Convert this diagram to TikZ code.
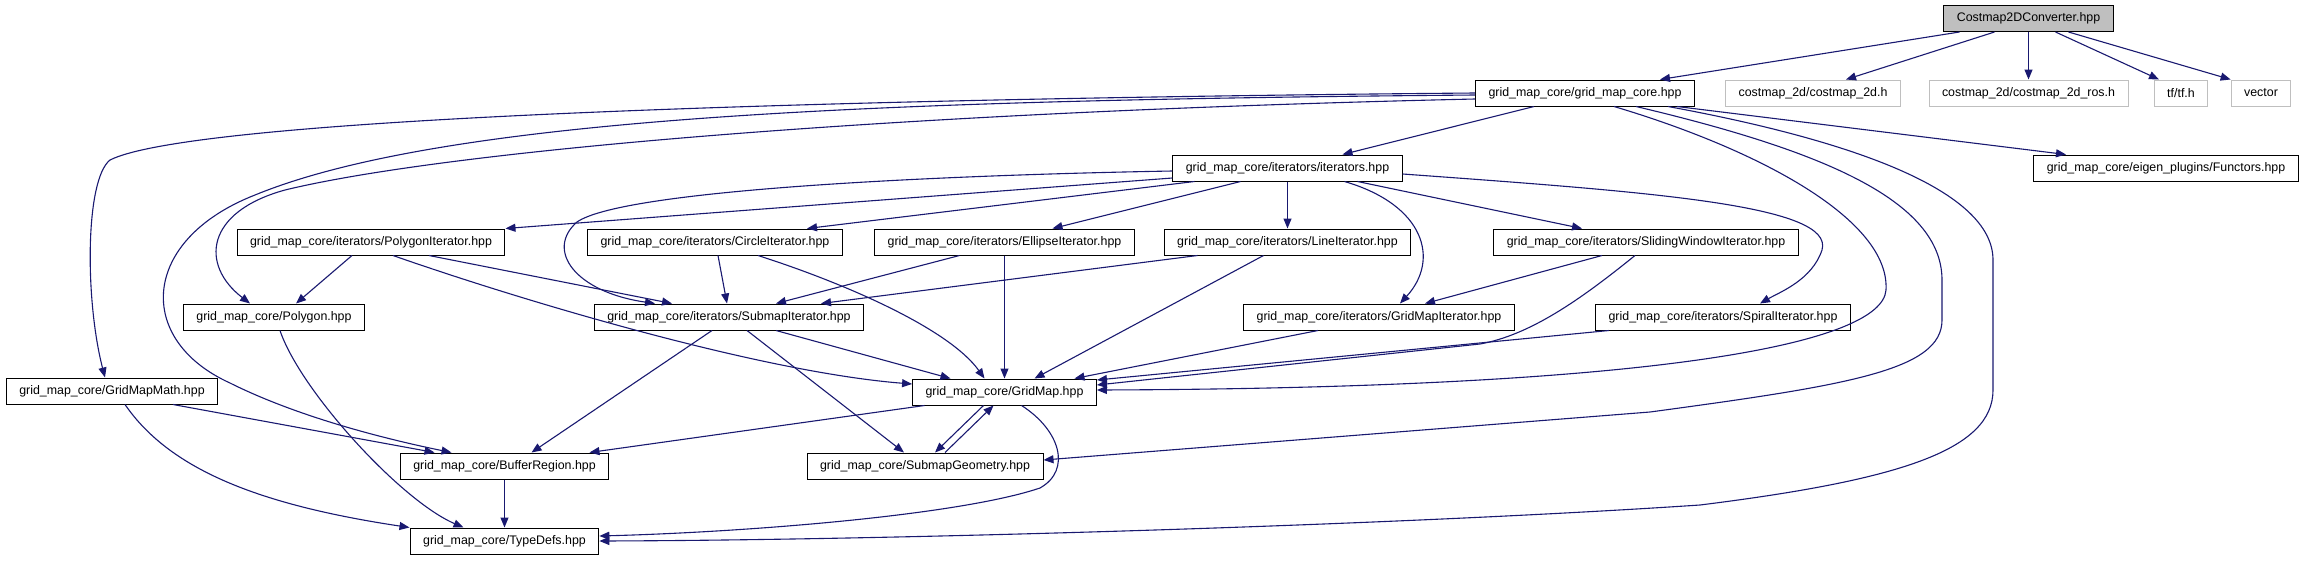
\documentclass[tikz,border=0pt]{standalone}
\usepackage{fontspec}
\setmainfont{Liberation Sans}
\usepackage{tikz}
\usepackage{xcolor}
\usetikzlibrary{arrows.meta,positioning}
\definecolor{Navy}{HTML}{191970}
\definecolor{Grey}{HTML}{BFBFBF}
\tikzset{
  hdr/.style={
    rectangle,draw=black,line width=1pt,fill=white,
    minimum height=26pt,inner xsep=13pt,inner ysep=2pt,
    font=\fontsize{12.4}{14}\selectfont,text=black
  },
  roothdr/.style={hdr,fill=Grey},
  syshdr/.style={hdr,draw=Grey},
  incl/.style={-{Triangle[length=10pt,width=8pt]},draw=Navy,line width=1.1pt}
}
\begin{document}
\begin{tikzpicture}[x=1pt,y=-1pt]
  \useasboundingbox (0,0) rectangle (2308,560);
  \node[roothdr] (conv) at (2028.5,18.5) {Costmap2DConverter.hpp};
  \node[hdr] (core) at (1585,93) {grid\_map\_core/grid\_map\_core.hpp};
  \node[syshdr] (cm2d) at (1813,93) {costmap\_2d/costmap\_2d.h};
  \node[syshdr] (cmros) at (2028.5,93) {costmap\_2d/costmap\_2d\_ros.h};
  \node[syshdr] (tf) at (2181,93) {tf/tf.h};
  \node[syshdr] (vec) at (2261,93) {vector};
  \node[hdr] (iters) at (1287.5,168) {grid\_map\_core/iterators/iterators.hpp};
  \node[hdr] (functors) at (2166,168) {grid\_map\_core/eigen\_plugins/Functors.hpp};
  \node[hdr] (polyit) at (371,242) {grid\_map\_core/iterators/PolygonIterator.hpp};
  \node[hdr] (circit) at (715,242) {grid\_map\_core/iterators/CircleIterator.hpp};
  \node[hdr] (ellit) at (1004.5,242) {grid\_map\_core/iterators/EllipseIterator.hpp};
  \node[hdr] (lineit) at (1287.5,242) {grid\_map\_core/iterators/LineIterator.hpp};
  \node[hdr] (slideit) at (1646,242) {grid\_map\_core/iterators/SlidingWindowIterator.hpp};
  \node[hdr] (polygon) at (274,317) {grid\_map\_core/Polygon.hpp};
  \node[hdr] (submapit) at (729,317) {grid\_map\_core/iterators/SubmapIterator.hpp};
  \node[hdr] (gmit) at (1379,317) {grid\_map\_core/iterators/GridMapIterator.hpp};
  \node[hdr] (spiralit) at (1723,317) {grid\_map\_core/iterators/SpiralIterator.hpp};
  \node[hdr] (gmmath) at (112,391) {grid\_map\_core/GridMapMath.hpp};
  \node[hdr] (gridmap) at (1004.5,392) {grid\_map\_core/GridMap.hpp};
  \node[hdr] (bufreg) at (504.5,466) {grid\_map\_core/BufferRegion.hpp};
  \node[hdr] (subgeo) at (925,466) {grid\_map\_core/SubmapGeometry.hpp};
  \node[hdr] (typedefs) at (504.5,541) {grid\_map\_core/TypeDefs.hpp};

  \draw[incl] ([xshift=-69]conv.south) -- ([xshift=75]core.north);
  \draw[incl] ([xshift=-34]conv.south) -- ([xshift=33]cm2d.north);
  \draw[incl] (conv.south) -- (cmros.north);
  \draw[incl] ([xshift=27]conv.south) -- ([xshift=-22]tf.north);
  \draw[incl] ([xshift=40]conv.south) -- (vec.north west);

  \draw[incl] ([xshift=-51]core.south) -- ([xshift=55]iters.north);
  \draw[incl] ([xshift=92]core.south) -- ([xshift=-100]functors.north);
  \draw[incl] (core.west) .. controls (900,98) and (200,115) .. (110,160)
    .. controls (85,180) and (85,300) .. ([xshift=-7]gmmath.north);
  \draw[incl] ([yshift=-2]core.west) .. controls (900,100) and (450,115) .. (255,195)
    .. controls (140,240) and (135,340) .. (230,383)
    .. controls (300,418) and (390,440) .. ([xshift=-53]bufreg.north);
  \draw[incl] ([yshift=-6]core.west) .. controls (900,112) and (450,150) .. (285,190)
    .. controls (205,212) and (200,265) .. ([xshift=-24]polygon.north);
  \draw[incl] ([xshift=29]core.south) .. controls (1760,150) and (1890,220) .. (1886,290)
    .. controls (1882,345) and (1650,388) .. ([yshift=2]gridmap.east);
  \draw[incl] ([xshift=51]core.south) .. controls (1820,150) and (1942,200) .. (1942,280)
    -- (1942,320) .. controls (1942,370) and (1850,385) .. (1650,412)
    -- ([yshift=6]subgeo.east);
  \draw[incl] ([xshift=83]core.south) .. controls (1850,140) and (1993,190) .. (1993,260)
    -- (1993,390) .. controls (1993,450) and (1900,480) .. (1700,505)
    .. controls (1400,525) and (900,540) .. (typedefs.east);

  \draw[incl] ([yshift=-10]iters.west) -- (polyit.north east);
  \draw[incl] ([yshift=-3]iters.west) .. controls (900,176) and (620,192) .. (577,222)
    .. controls (545,250) and (575,292) .. ([xshift=-74]submapit.north);
  \draw[incl] ([xshift=-93]iters.south) -- ([xshift=92]circit.north);
  \draw[incl] ([xshift=-47]iters.south) -- ([xshift=48]ellit.north);
  \draw[incl] (iters.south) -- (lineit.north);
  \draw[incl] ([xshift=57]iters.south) .. controls (1425,205) and (1440,260) .. ([xshift=21]gmit.north);
  \draw[incl] ([xshift=70]iters.south) -- ([xshift=-64]slideit.north);
  \draw[incl] ([yshift=-6]iters.east) .. controls (1650,192) and (1835,205) .. (1822,250)
    .. controls (1812,280) and (1780,292) .. ([xshift=37]spiralit.north);

  \draw[incl] ([xshift=-19]polyit.south) -- ([xshift=22]polygon.north);
  \draw[incl] ([xshift=58]polyit.south) -- ([xshift=-57]submapit.north);
  \draw[incl] ([xshift=22]polyit.south) .. controls (520,300) and (760,372) .. ([yshift=8]gridmap.west);
  \draw[incl] ([xshift=3]circit.south) -- ([xshift=-2]submapit.north);
  \draw[incl] ([xshift=43]circit.south) .. controls (850,285) and (950,330) .. ([xshift=-20]gridmap.north);
  \draw[incl] ([xshift=-45]ellit.south) -- ([xshift=47]submapit.north);
  \draw[incl] (ellit.south) -- (gridmap.north);
  \draw[incl] ([xshift=-90]lineit.south) -- ([xshift=92]submapit.north);
  \draw[incl] ([xshift=-24]lineit.south) -- ([xshift=30]gridmap.north);
  \draw[incl] ([xshift=-44]slideit.south) -- ([xshift=46]gmit.north);
  \draw[incl] ([xshift=-11]slideit.south) .. controls (1580,300) and (1530,335) .. (1480,344)
    -- ([yshift=7]gridmap.east);
  \draw[incl] ([xshift=-61]gmit.south) -- ([xshift=70]gridmap.north);
  \draw[incl] ([xshift=-114]spiralit.south) -- ([yshift=12]gridmap.east);

  \draw[incl] ([xshift=47]submapit.south) -- ([xshift=-54]gridmap.north);
  \draw[incl] ([xshift=18]submapit.south) -- ([xshift=-21]subgeo.north);
  \draw[incl] ([xshift=-17]submapit.south) -- ([xshift=27]bufreg.north);
  \draw[incl] ([xshift=6]polygon.south) .. controls (300,390) and (400,500) .. ([xshift=-41]typedefs.north);
  \draw[incl] ([xshift=61]gmmath.south) -- ([xshift=-70]bufreg.north);
  \draw[incl] ([xshift=13]gmmath.south) .. controls (170,470) and (260,505) .. ([xshift=-95]typedefs.north);
  \draw[incl] (bufreg.south) -- (typedefs.north);
  \draw[incl] ([xshift=-80]gridmap.south) -- ([xshift=85]bufreg.north);
  \draw[incl] ([xshift=-21]gridmap.south) -- ([xshift=10]subgeo.north);
  \draw[incl] ([xshift=20]subgeo.north) -- ([xshift=-11]gridmap.south);
  \draw[incl] ([xshift=17]gridmap.south) .. controls (1060,430) and (1072,470) .. (1040,488)
    .. controls (960,515) and (750,532) .. ([yshift=5]typedefs.east);
\end{tikzpicture}
\end{document}
